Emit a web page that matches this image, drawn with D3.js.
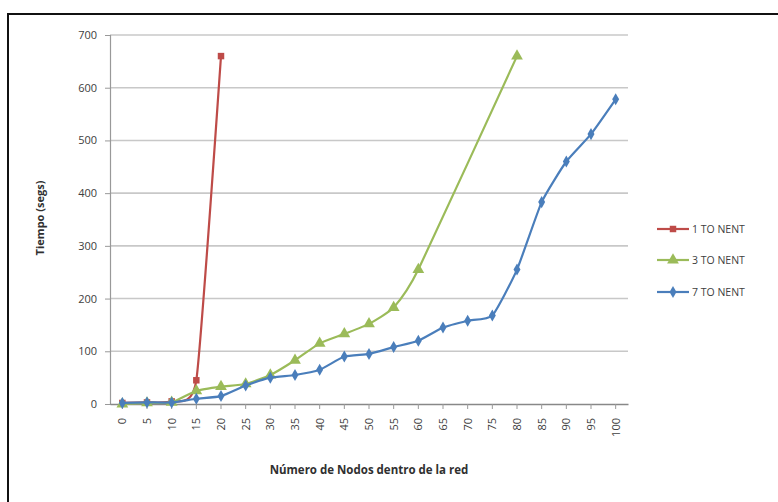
<!DOCTYPE html>
<html>
<head>
<meta charset="utf-8">
<script src="https://cdn.jsdelivr.net/npm/d3@7"></script>
<style>
  html, body { margin: 0; padding: 0; background: #fff; }
  svg { display: block; }
  text { font-family: "Open Sans", "Liberation Sans", sans-serif; }
</style>
</head>
<body>
<svg id="chart" width="778" height="502"></svg>
<script>
// Number of nodes in the network (category axis)
const nodes = [0, 5, 10, 15, 20, 25, 30, 35, 40, 45, 50, 55, 60, 65, 70, 75, 80, 85, 90, 95, 100];

// Time in seconds for each configuration (null = not measured)
const oneToNent = [2, 3, 5, 45, 660, null, null, null, null, null, null, null, null, null, null, null, null, null, null, null, null];
const threeToNent = [0, 2, 3, 25, 33, 38, 55, 83, 115, 133, 152, 183, 255, null, null, null, 660, null, null, null, null];
const sevenToNent = [2, 3, 3, 10, 15, 35, 50, 55, 65, 90, 95, 108, 120, 145, 158, 168, 255, 383, 460, 512, 578];

const yTicks = [0, 100, 200, 300, 400, 500, 600, 700];
const seriesNames = ["1 TO NENT", "3 TO NENT", "7 TO NENT"];
const seriesColors = ["#BE4B48", "#9BBB59", "#4A7EBB"];
const seriesMarkers = [d3.symbolSquare, d3.symbolTriangle, d3.symbolDiamond];

const svg = d3.select("#chart");

// chart frame
svg.append("rect")
  .attr("x", 8).attr("y", 14)
  .attr("width", 790).attr("height", 510)
  .attr("fill", "#fff")
  .attr("stroke", "#111").attr("stroke-width", 2);

const plot = { left: 110, right: 628, top: 35, bottom: 404 };

const x = d3.scaleBand()
  .domain(nodes)
  .range([plot.left, plot.right]);

const y = d3.scaleLinear()
  .domain([0, 700])
  .range([plot.bottom, plot.top]);

// horizontal gridlines
svg.append("g")
  .selectAll("line")
  .data(yTicks.filter(t => t > 0))
  .join("line")
  .attr("x1", plot.left).attr("x2", plot.right)
  .attr("y1", d => y(d)).attr("y2", d => y(d))
  .attr("stroke", "#c8c8c8").attr("stroke-width", 1.6);

// y axis
const yAxis = svg.append("g")
  .attr("transform", `translate(${plot.left},0)`)
  .call(d3.axisLeft(y).tickValues(yTicks).tickSize(5).tickPadding(8));
yAxis.select(".domain").attr("stroke", "#999").attr("stroke-width", 1.2);
yAxis.selectAll(".tick line").attr("stroke", "#999");
yAxis.selectAll(".tick text")
  .attr("font-size", 11).attr("fill", "#404040")
  .style("font-family", "'Open Sans', sans-serif");

// x axis
const xAxis = svg.append("g")
  .attr("transform", `translate(0,${plot.bottom})`)
  .call(d3.axisBottom(x).tickSize(5).tickSizeOuter(0));
xAxis.select(".domain").attr("stroke", "#888").attr("stroke-width", 1.6);
xAxis.selectAll(".tick line").attr("stroke", "#999");
xAxis.selectAll(".tick text")
  .attr("font-size", 11).attr("fill", "#404040")
  .attr("transform", "rotate(-90)")
  .attr("text-anchor", "end")
  .attr("x", -14).attr("y", 0).attr("dy", "0.35em")
  .style("font-family", "'Open Sans', sans-serif");

// axis titles
svg.append("text")
  .attr("transform", `translate(44,218) rotate(-90)`)
  .attr("text-anchor", "middle")
  .attr("font-size", 11).attr("font-weight", "bold").attr("fill", "#303030")
  .text("Tiempo (segs)");

svg.append("text")
  .attr("x", (plot.left + plot.right) / 2).attr("y", 474)
  .attr("text-anchor", "middle")
  .attr("font-size", 11.5).attr("font-weight", "bold").attr("fill", "#303030")
  .text("Número de Nodos dentro de la red");

// series
const allSeries = [oneToNent, threeToNent, sevenToNent];
const cx = i => x(nodes[i]) + x.bandwidth() / 2;

const line = d3.line()
  .x(d => cx(d.i))
  .y(d => y(d.v))
  .curve(d3.curveCardinal.tension(0.5));

allSeries.forEach((vals, s) => {
  const pts = vals.map((v, i) => ({ i, v })).filter(d => d.v !== null);
  const g = svg.append("g");
  g.append("path")
    .datum(pts)
    .attr("d", line)
    .attr("fill", "none")
    .attr("stroke", seriesColors[s])
    .attr("stroke-width", 2.2);
  g.selectAll("path.mk")
    .data(pts)
    .join("path")
    .attr("class", "mk")
    .attr("transform", d => `translate(${cx(d.i)},${y(d.v)})`)
    .attr("d", d3.symbol().type(seriesMarkers[s]).size(s === 1 ? 60 : 42))
    .attr("fill", seriesColors[s]);
});

// legend
const legend = svg.append("g");
const legendY = [229, 260, 292];
seriesNames.forEach((name, s) => {
  const g = legend.append("g").attr("transform", `translate(657,${legendY[s]})`);
  g.append("line")
    .attr("x1", 0).attr("x2", 32)
    .attr("stroke", seriesColors[s]).attr("stroke-width", 2.2);
  g.append("path")
    .attr("transform", "translate(16,0)")
    .attr("d", d3.symbol().type(seriesMarkers[s]).size(s === 1 ? 60 : 42))
    .attr("fill", seriesColors[s]);
  g.append("text")
    .attr("x", 35).attr("dy", "0.35em")
    .attr("font-size", 10.5).attr("fill", "#404040")
    .text(name);
});
</script>
</body>
</html>
